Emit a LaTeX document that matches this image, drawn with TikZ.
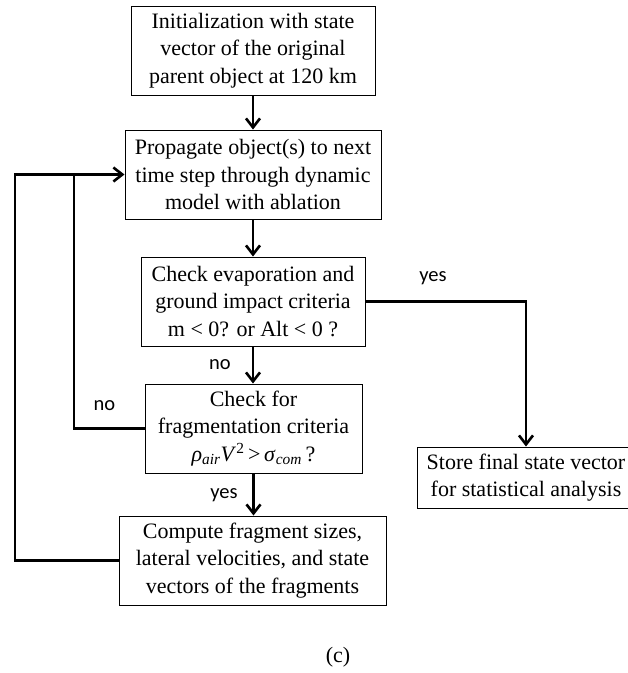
\documentclass[tikz,border=0pt]{standalone}
\usepackage{fontspec}
\setmainfont{Liberation Serif}
\newfontfamily\labelfont{Carlito}
\usetikzlibrary{arrows.meta}
\begin{document}
\begin{tikzpicture}[x=1pt,y=-1pt,
  box/.style={draw,line width=1pt,inner sep=0pt,align=center,
    font=\fontsize{22}{27.5}\selectfont},
  lbl/.style={font=\labelfont\fontsize{20.5}{24}\selectfont,inner sep=0pt},
  conn/.style={line width=2.8pt,line join=miter,
    -{Straight Barb[length=9pt,width=14pt,line width=2.6pt]}},
  plain/.style={line width=2.8pt,line join=miter}]
\useasboundingbox (0,0) rectangle (628,673);
\node[box,minimum width=244pt,minimum height=89pt] (init) at (253,50.5)
  {Initialization with state\\vector of the original\\parent object at 120 km};
\node[box,minimum width=256pt,minimum height=89pt] (prop) at (253,174.5)
  {Propagate object(s) to next\\time step through dynamic\\model with ablation};
\node[box,minimum width=224pt,minimum height=89pt] (evap) at (253,301.5)
  {Check evaporation and\\ground impact criteria\\m < 0? or Alt < 0 ?};
\node[box,minimum width=217pt,minimum height=89pt] (frag) at (253.5,428.5)
  {Check for\\fragmentation criteria\\\textit{ρ}\textsubscript{\textit{air}}\textit{V}\textsuperscript{2}\,>\,\textit{σ}\textsubscript{\textit{com}}\,?};
\node[box,minimum width=267pt,minimum height=89pt] (comp) at (252.5,560.5)
  {Compute fragment sizes,\\lateral velocities, and state\\vectors of the fragments};
\node[box,minimum width=218pt,minimum height=61pt] (store) at (526,477.5)
  {Store final state vector\\for statistical analysis};
\node[font=\fontsize{22}{27.5}\selectfont,inner sep=0pt] (cap) at (338,657) {(c)};
\node[lbl] (yes1) at (433,278) {yes};
\node[lbl] (no1) at (220,365) {no};
\node[lbl] (no2) at (104.5,406) {no};
\node[lbl] (yes2) at (224,495) {yes};
\coordinate (lft) at (15,174.5);
\coordinate (mid) at (74,174.5);
\draw[conn] (init.south) -- (init.south |- prop.north);
\draw[conn] (prop.south) -- (prop.south |- evap.north);
\draw[conn] (evap.south) -- (evap.south |- frag.north);
\draw[conn] (frag.south) -- (frag.south |- comp.north);
\draw[conn] (evap.east) -| (store.north);
\draw[plain] (frag.west) -| (mid);
\draw[conn] (comp.west) -| (lft) -- (prop.west);
\end{tikzpicture}
\end{document}
